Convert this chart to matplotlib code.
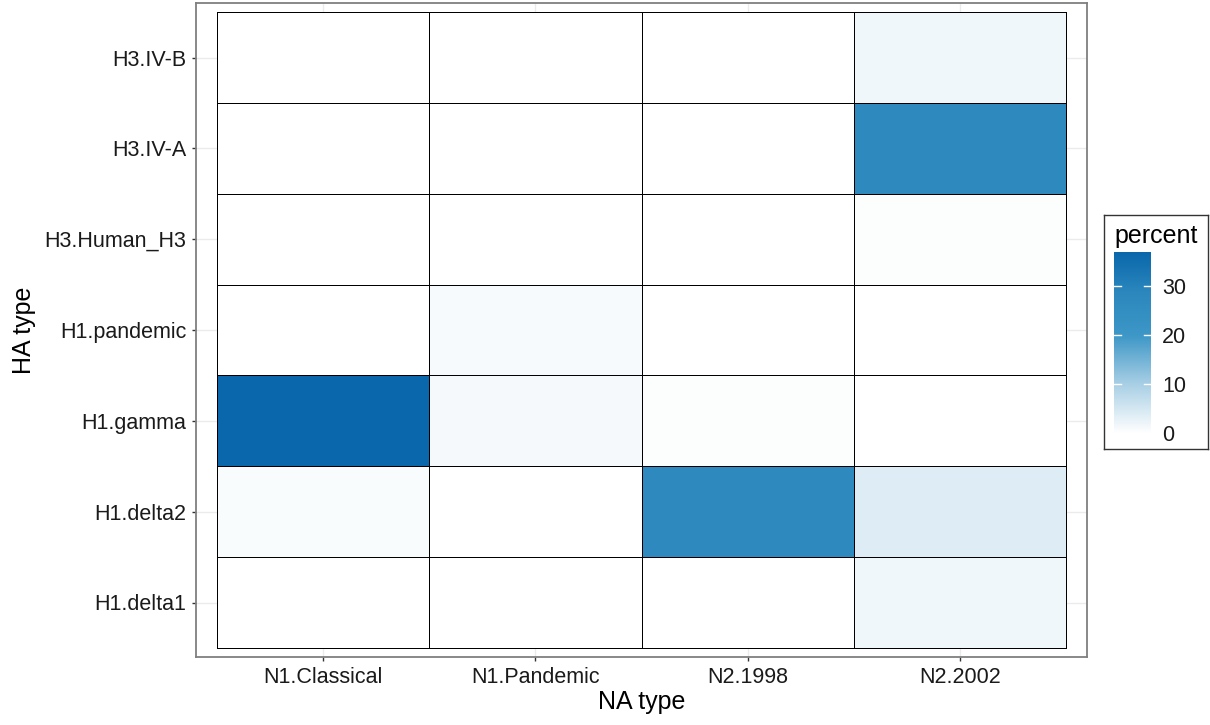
import numpy as np
import matplotlib
matplotlib.use("Agg")
import matplotlib.pyplot as plt
from matplotlib.colors import LinearSegmentedColormap, Normalize

plt.rcParams['font.family'] = ['Liberation Sans', 'DejaVu Sans']

na_types = ["N1.Classical", "N1.Pandemic", "N2.1998", "N2.2002"]
ha_types = ["H1.delta1", "H1.delta2", "H1.gamma", "H1.pandemic",
            "H3.Human_H3", "H3.IV-A", "H3.IV-B"]

# percent of isolates per HA/NA pairing (rows follow ha_types)
pct_delta1    = [0.0, 0.0, 0.0, 1.8]
pct_delta2    = [0.8, 0.0, 28.0, 3.8]
pct_gamma     = [37.0, 1.2, 0.4, 0.0]
pct_pandemic  = [0.0, 1.1, 0.0, 0.0]
pct_human_h3  = [0.0, 0.0, 0.0, 0.3]
pct_iva       = [0.0, 0.0, 0.0, 28.0]
pct_ivb       = [0.0, 0.0, 0.0, 1.8]

values = np.array([pct_delta1, pct_delta2, pct_gamma, pct_pandemic,
                   pct_human_h3, pct_iva, pct_ivb])
vmax = values.max()

cmap = LinearSegmentedColormap.from_list(
    "pct_blues",
    [(0.0, "#ffffff"), (0.27, "#a8cfe5"), (0.54, "#3d97c7"),
     (0.78, "#2b87bd"), (1.0, "#0a67ab")])
norm = Normalize(vmin=0, vmax=vmax)

fig = plt.figure(figsize=(12.1, 7.25), dpi=100)
ax = fig.add_axes([196 / 1210, 1 - 657 / 725, 891 / 1210, 654 / 725])

xe = np.arange(len(na_types) + 1) - 0.5
ye = np.arange(len(ha_types) + 1) - 0.5
ax.pcolormesh(xe, ye, values, cmap=cmap, norm=norm,
              edgecolors="black", linewidth=0.45, zorder=2)

ax.set_xlim(-0.6, len(na_types) - 0.4)
ax.set_ylim(-0.6, len(ha_types) - 0.4)
ax.set_xticks(range(len(na_types)))
ax.set_xticklabels(na_types)
ax.set_yticks(range(len(ha_types)))
ax.set_yticklabels(ha_types)
ax.set_axisbelow(True)
ax.grid(True, color="#ebebeb", linewidth=1.0, zorder=0)
for s in ax.spines.values():
    s.set_color("#7f7f7f")
    s.set_linewidth(1.3)
ax.tick_params(axis="both", length=3, width=1.0, color="#333333",
               labelsize=15.5, labelcolor="#1a1a1a", pad=4)
ax.set_xlabel("NA type", fontsize=18, color="black", labelpad=2)
ax.set_ylabel("HA type", fontsize=18, color="black", labelpad=6)

# legend frame
frame = fig.add_axes([1104 / 1210, 1 - 449 / 725, 104 / 1210, 234 / 725])
frame.set_xticks([])
frame.set_yticks([])
for s in frame.spines.values():
    s.set_color("#333333")
    s.set_linewidth(1.0)
frame.text(0.5, 0.96, "percent", transform=frame.transAxes, ha="center",
           va="top", fontsize=18, color="black")

# colour bar
cax = fig.add_axes([1114 / 1210, 1 - 433 / 725, 37 / 1210, 181 / 725])
grad = np.linspace(0, vmax, 256).reshape(-1, 1)
cax.imshow(grad, aspect="auto", cmap=cmap, norm=norm, origin="lower",
           extent=[0, 1, 0, vmax])
cax.set_xlim(0, 1)
cax.set_ylim(0, vmax)
for s in cax.spines.values():
    s.set_visible(False)
cax.set_xticks([])
ticks = [0, 10, 20, 30]
for t in ticks:
    cax.plot([0, 0.2], [t, t], color="white", lw=1.0)
    cax.plot([0.8, 1], [t, t], color="white", lw=1.0)
cax.yaxis.tick_right()
cax.set_yticks(ticks)
cax.set_yticklabels([str(t) for t in ticks])
cax.tick_params(axis="y", length=0, pad=8, labelsize=15.5, labelcolor="#1a1a1a")

fig.savefig("out.png", dpi=100)
